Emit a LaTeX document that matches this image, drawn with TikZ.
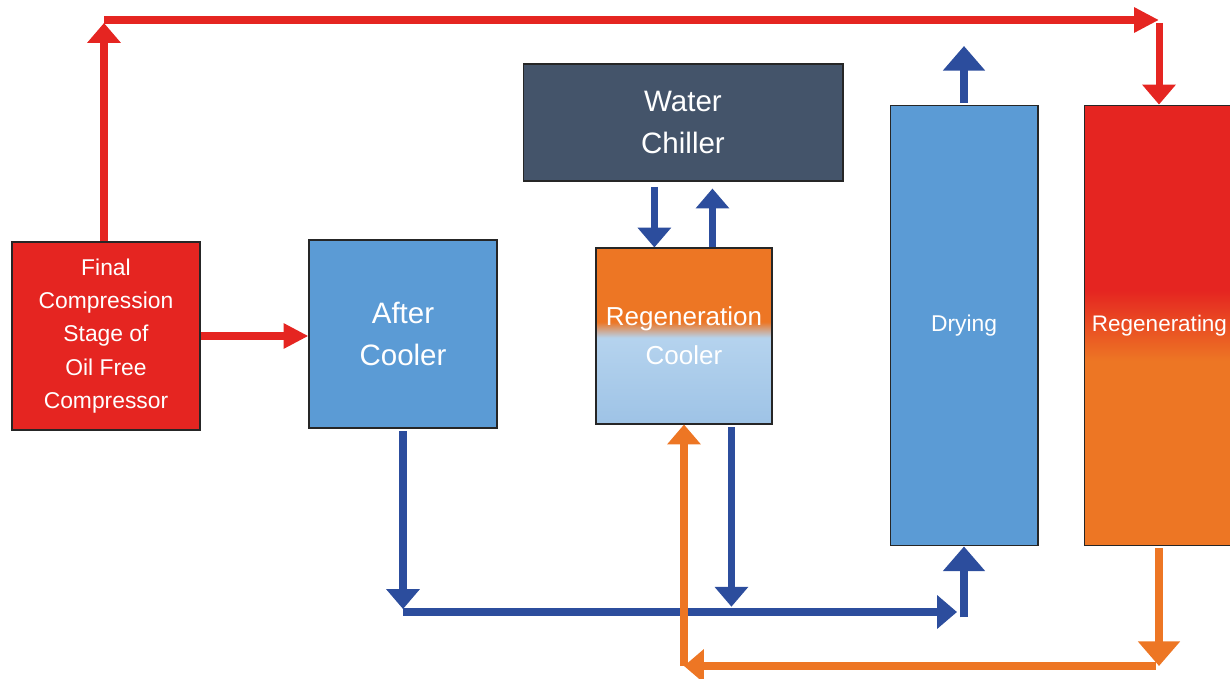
\documentclass[tikz,border=0pt]{standalone}
\usepackage{fontspec}
\setmainfont{Liberation Sans}
\usetikzlibrary{arrows.meta}
\definecolor{boxred}{RGB}{229,37,33}
\definecolor{boxblue}{RGB}{91,155,213}
\definecolor{chiller}{RGB}{68,84,106}
\definecolor{flowblue}{RGB}{44,77,157}
\definecolor{floworange}{RGB}{237,118,36}
\definecolor{coolblueA}{RGB}{181,211,238}
\definecolor{coolblueB}{RGB}{158,195,230}
\pgfdeclareverticalshading{regenshade}{100bp}{color(0bp)=(floworange); color(46bp)=(floworange); color(54bp)=(boxred); color(100bp)=(boxred)}
\pgfdeclareverticalshading{coolershade}{100bp}{color(0bp)=(coolblueB); color(25bp)=(coolblueB); color(49.5bp)=(coolblueA); color(54bp)=(floworange); color(100bp)=(floworange)}
\tikzset{
  box/.style={draw=black!85, line width=0.6pt, text=white, align=center, inner sep=0pt},
  pipe/.style={line width=4pt, -{Triangle[width=18.5pt,length=11.3pt]}},
  widepipe/.style={line width=4.6pt, -{Triangle[width=23.2pt,length=14pt]}},
  slimhead/.style={line width=4.6pt, -{Triangle[width=13.6pt,length=14.2pt]}},
}
\begin{document}
\begin{tikzpicture}[x=0.02cm,y=-0.02cm]
\useasboundingbox (0,0) rectangle (1230,679);
% units
\node[box, fill=boxred, minimum width=3.76cm, minimum height=3.76cm,
      font=\fontsize{13}{19}\selectfont] (fcs) at (106,336)
      {Final\\Compression\\Stage of\\Oil Free\\Compressor};
\node[box, fill=boxblue, minimum width=3.76cm, minimum height=3.76cm,
      font=\fontsize{16.8}{24.4}\selectfont] (ac) at (403,334) {After\\Cooler};
\node[box, fill=chiller, minimum width=6.4cm, minimum height=2.34cm,
      font=\fontsize{16.8}{24.4}\selectfont] (wc) at (683,122.5) {Water\\Chiller};
\node[box, shade, shading=coolershade, minimum width=3.52cm, minimum height=3.52cm,
      font=\fontsize{14.8}{22}\selectfont] (rc) at (684,336) {Regeneration\\Cooler};
\node[box, fill=boxblue, minimum width=2.96cm, minimum height=8.82cm,
      font=\fontsize{13}{16}\selectfont] (dry) at (964,325.5) {Drying};
\node[box, shade, shading=regenshade, minimum width=2.99cm, minimum height=8.82cm,
      font=\fontsize{12.8}{16}\selectfont] (rgn) at (1159.5,325.5) {Regenerating};
% bends
\coordinate (topL) at (104,20);
\coordinate (topR) at (1159,20);
\coordinate (botL) at (403,612);
\coordinate (botR) at (957,612);
\coordinate (orR) at (1159,666);
\coordinate (orL) at (684,666);
\coordinate (dryout) at (964,46);
% hot air
\draw[pipe, boxred, shorten >=1.7pt] (topL |- fcs.north) -- (topL);
\draw[slimhead, boxred] (topL) -- (topR);
\draw[pipe, boxred, shorten <=1.7pt] (topR) -- (topR |- rgn.north);
\draw[slimhead, boxred] (fcs.east) -- (fcs.east -| ac.west);
% cooling water and cooled air
\draw[pipe, flowblue, shorten <=3pt] ([xshift=-16.3pt]wc.south) -- ([xshift=-16.3pt]wc.south |- rc.north);
\draw[pipe, flowblue, shorten >=4pt] ([xshift=16.2pt]rc.north) -- ([xshift=16.2pt]rc.north |- wc.south);
\draw[widepipe, flowblue, shorten <=1pt] (dry.north) -- (dryout);
\draw[pipe, flowblue, shorten <=1.5pt, shorten >=1.7pt] (ac.south) -- (botL);
\draw[pipe, flowblue, shorten <=1.5pt, shorten >=3pt] ([xshift=27pt]rc.south) -- ([xshift=27pt]rc.south |- botL);
\draw[pipe, flowblue] (botL) -- (botR);
\draw[widepipe, flowblue] ([yshift=-3pt]dry.south |- botL) -- (dry.south);
% regeneration air
\draw[widepipe, floworange, line width=5pt, shorten <=1pt] (orR |- rgn.south) -- (orR);
\draw[pipe, floworange, line width=4.5pt, shorten <=2pt] (orR) -- (orL);
\draw[pipe, floworange] (orL) -- (rc.south);
\end{tikzpicture}
\end{document}
